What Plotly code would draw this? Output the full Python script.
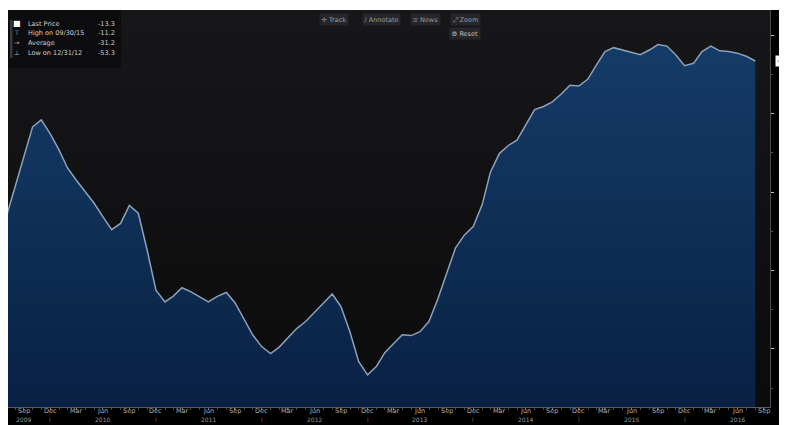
import pandas as pd
import plotly.graph_objects as go

# ---- data (monthly, month-end) ----
start_month = "2009-07-31"
values = [
    -33.3, -29.4, -25.6, -21.7, -20.8, -22.6, -24.7, -26.9, -28.5, -29.9,
    -31.4, -33.1, -34.8, -34.0, -31.7, -32.7, -37.3, -42.5, -44.0, -43.3,
    -42.2, -42.7, -43.4, -44.0, -43.3, -42.8, -44.1, -46.1, -48.2, -49.7,
    -50.6, -49.8, -48.6, -47.4, -46.5, -45.4, -44.2, -43.0, -44.6, -47.8,
    -51.6, -53.3, -52.2, -50.5, -49.3, -48.2, -48.3, -47.8, -46.5, -43.6,
    -40.4, -37.1, -35.5, -34.4, -31.6, -27.5, -25.1, -24.1, -23.4, -21.4,
    -19.5, -19.1, -18.5, -17.5, -16.4, -16.5, -15.6, -13.9, -12.1, -11.6,
    -11.9, -12.2, -12.5, -11.9, -11.2, -11.4, -12.5, -13.9, -13.6, -12.1,
    -11.4, -12.0, -12.1, -12.3, -12.7, -13.3,
]
dates = pd.date_range(start_month, periods=len(values), freq="ME")

legend_rows = [
    ("\u25A0", "Last Price", "-13.3"),
    ("\u22A4", "High on 09/30/15", "-11.2"),
    ("\u2192", "Average", "-31.2"),
    ("\u22A5", "Low on 12/31/12", "-53.3"),
]
last_price_label = "-13.3"

tick_dates = pd.date_range("2009-09-30", "2016-09-30", freq="QE-DEC")
month_labels = [d.strftime("%b") for d in tick_dates]
second_labels = []
for d in tick_dates:
    if d.year == 2009 and d.month == 9:
        second_labels.append("2009")
    elif d.month == 6:
        second_labels.append(str(d.year))
    elif d.month == 12:
        second_labels.append("|")
    else:
        second_labels.append("")

y_tick_vals = [-10, -20, -30, -40, -50]
y_tick_text = ["-10", "-20", "-30", "-40", "-50"]

buttons = [("\u271B Track", 334), ("\u2215 Annotate", 381), ("\u2261 News", 425), ("\u2922 Zoom", 465)]
reset_button = ("\u2699 Reset", 465)

# ---- geometry: page is 787x425, browser body margin offsets the figure by 8px ----
OFF = 8
W, H = 787 - OFF, 425 - OFF
L, R, T, B = 0, 17, 2, 18
PW, PH = W - L - R, H - T - B


def px(x):  # page x -> paper x
    return (x - OFF - L) / PW


def py(y):  # page y -> paper y
    return (H - B - (y - OFF)) / PH


y_range = [-57.4, -6.8]
x_range = ["2009-08-07", "2016-10-21"]

fig = go.Figure()

# dark background panel with a slight vertical gradient
fig.add_trace(go.Scatter(
    x=x_range, y=[y_range[0]] * 2, mode="lines",
    line=dict(width=0, color="rgba(0,0,0,0)"), hoverinfo="skip", showlegend=False,
))
fig.add_trace(go.Scatter(
    x=x_range, y=[y_range[1]] * 2, mode="lines", fill="tonexty",
    line=dict(width=0, color="rgba(0,0,0,0)"), hoverinfo="skip", showlegend=False,
    fillgradient=dict(type="vertical", start=y_range[0], stop=y_range[1],
                      colorscale=[[0, "#0b0b0c"], [1, "#17171a"]]),
))

# baseline along the bottom of the axis so the area fills down to the axis
fig.add_trace(go.Scatter(
    x=dates, y=[y_range[0]] * len(dates), mode="lines",
    line=dict(width=0, color="rgba(0,0,0,0)"), hoverinfo="skip", showlegend=False,
))
fig.add_trace(go.Scatter(
    x=dates, y=values, mode="lines", fill="tonexty",
    line=dict(color="#8da2ba", width=1.5),
    fillgradient=dict(type="vertical", start=y_range[0], stop=-10,
                      colorscale=[[0, "#092143"], [1, "#153c69"]]),
    showlegend=False,
))

shapes = [
    # thin white strip at the top of the page
    dict(type="rect", xref="paper", yref="paper", x0=px(0), x1=px(800), y0=py(10), y1=py(0),
         fillcolor="white", line=dict(width=0), layer="above"),
    # legend box
    dict(type="rect", xref="paper", yref="paper", x0=px(OFF), x1=px(121), y0=py(68), y1=py(10),
         fillcolor="#0c0c0e", line=dict(width=0), layer="above"),
    dict(type="rect", xref="paper", yref="paper", x0=px(10), x1=px(12.5), y0=py(58), y1=py(20),
         fillcolor="#3a3a3e", line=dict(width=0), layer="above"),
]

annotations = []
legend_ys = [24, 33.5, 43, 53]
for (sym, label, val), yy in zip(legend_rows, legend_ys):
    annotations.append(dict(xref="paper", yref="paper", x=px(17), y=py(yy), text=sym,
                            showarrow=False, xanchor="center", yanchor="middle",
                            font=dict(size=8 if sym == "\u25A0" else 6.5,
                                      color="white" if sym == "\u25A0" else "#bbbbbb",
                                      family="DejaVu Sans")))
    annotations.append(dict(xref="paper", yref="paper", x=px(26), y=py(yy), text=label,
                            showarrow=False, xanchor="left", yanchor="middle",
                            font=dict(size=6.5, color="#d0d0d0", family="DejaVu Sans")))
    annotations.append(dict(xref="paper", yref="paper", x=px(117), y=py(yy), text=val,
                            showarrow=False, xanchor="right", yanchor="middle",
                            font=dict(size=6.5, color="#d0d0d0", family="DejaVu Sans")))

for text, cx in buttons:
    annotations.append(dict(xref="paper", yref="paper", x=px(cx), y=py(19), text=text,
                            showarrow=False, xanchor="center", yanchor="middle",
                            bgcolor="#26262a", borderpad=1.5,
                            font=dict(size=6.5, color="#9a9a9e", family="DejaVu Sans")))
annotations.append(dict(xref="paper", yref="paper", x=px(reset_button[1]), y=py(33),
                        text=reset_button[0], showarrow=False, xanchor="center", yanchor="middle",
                        bgcolor="#26262a", borderpad=1.5,
                        font=dict(size=6.5, color="#c0c0c4", family="DejaVu Sans")))

# x-axis labels: months and years rows, placed on the date axis
for d, m, s in zip(tick_dates, month_labels, second_labels):
    annotations.append(dict(xref="x", yref="paper", x=d, y=py(411), text=m,
                            showarrow=False, xanchor="center", yanchor="middle",
                            font=dict(size=6.5, color="#b0b0b0", family="DejaVu Sans")))
    if s:
        annotations.append(dict(xref="x", yref="paper", x=d, y=py(420), text=s,
                                showarrow=False, xanchor="center", yanchor="middle",
                                font=dict(size=6 if s != "|" else 5, color="#9a9a9a",
                                          family="DejaVu Sans")))

# right-axis labels (partly cut by the page edge, as in the source)
for v, t in zip(y_tick_vals, y_tick_text):
    annotations.append(dict(xref="paper", yref="y", x=px(776.5), y=v, text=t,
                            showarrow=False, xanchor="left", yanchor="middle",
                            font=dict(size=7.5, color="#d8d8d8", family="DejaVu Sans")))

# last price marker on the right axis
annotations.append(dict(xref="paper", yref="y", x=px(775), y=values[-1], text=last_price_label,
                        showarrow=False, xanchor="left", yanchor="middle",
                        bgcolor="white", borderpad=1,
                        font=dict(size=7, color="#111111", family="DejaVu Sans")))

fig.update_layout(
    width=W, height=H,
    margin=dict(l=L, r=R, t=T, b=B, pad=0, autoexpand=False),
    paper_bgcolor="#000000",
    plot_bgcolor="#141417",
    showlegend=False,
    shapes=shapes,
    annotations=annotations,
    xaxis=dict(
        type="date", range=x_range, showgrid=False, zeroline=False,
        tickvals=tick_dates, showticklabels=False,
        showline=True, linecolor="#5a5a5e", linewidth=1,
        ticks="outside", ticklen=2, tickcolor="#7a7a7e",
        minor=dict(dtick="M1", ticks="outside", ticklen=2, tickcolor="#4a4a4e"),
    ),
    yaxis=dict(
        side="right", range=y_range, showgrid=False, zeroline=False,
        tickvals=y_tick_vals, showticklabels=False,
        showline=True, linecolor="#4a4a4e", linewidth=1,
        ticks="outside", ticklen=3, tickcolor="#bbbbbb",
        minor=dict(dtick=5, ticks="outside", ticklen=2, tickcolor="#555558"),
    ),
)

fig.write_html("out.html")
